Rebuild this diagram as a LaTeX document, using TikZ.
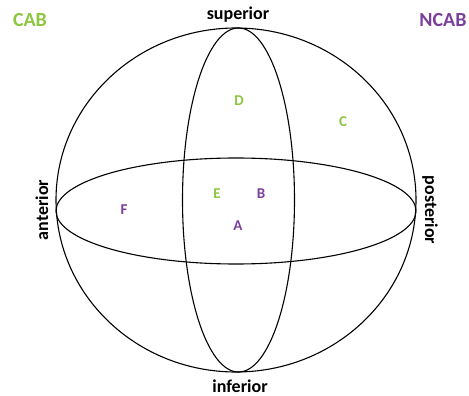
\documentclass[tikz,border=0pt]{standalone}
\usepackage{fontspec}
\setmainfont{Carlito}
\definecolor{cabgreen}{HTML}{8DC63F}
\definecolor{ncabpurple}{HTML}{7B3F9E}
\begin{document}
\begin{tikzpicture}[x=1pt,y=-1pt,
  outline/.style={draw=black,line width=1.1pt},
  lbl/.style={font=\bfseries\fontsize{18}{18}\selectfont,inner sep=0pt},
  hdr/.style={font=\bfseries\fontsize{20}{20}\selectfont,inner sep=0pt},
  ptg/.style={font=\bfseries\fontsize{15}{15}\selectfont,text=cabgreen,inner sep=0pt},
  ptp/.style={font=\bfseries\fontsize{15}{15}\selectfont,text=ncabpurple,inner sep=0pt}]
\useasboundingbox (0,0) rectangle (469,396);
\draw[outline] (236,200) ellipse [x radius=180, y radius=172];
\draw[outline] (236,211) ellipse [x radius=180, y radius=53];
\draw[outline] (238.5,200) ellipse [x radius=56, y radius=172];
\node[hdr,text=cabgreen] (cab) at (30,20) {CAB};
\node[hdr,text=ncabpurple] (ncab) at (443,20) {NCAB};
\node[lbl] (sup) at (238,15) {superior};
\node[lbl] (inf) at (240,386) {inferior};
\node[lbl,rotate=90] (ant) at (42,210) {anterior};
\node[lbl,rotate=-90] (post) at (430,210) {posterior};
\node[ptg] (D) at (239,101) {D};
\node[ptg] (C) at (343,122) {C};
\node[ptg] (E) at (217,194) {E};
\node[ptp] (B) at (261,194) {B};
\node[ptp] (A) at (238,226) {A};
\node[ptp] (F) at (124,210) {F};
\end{tikzpicture}
\end{document}
